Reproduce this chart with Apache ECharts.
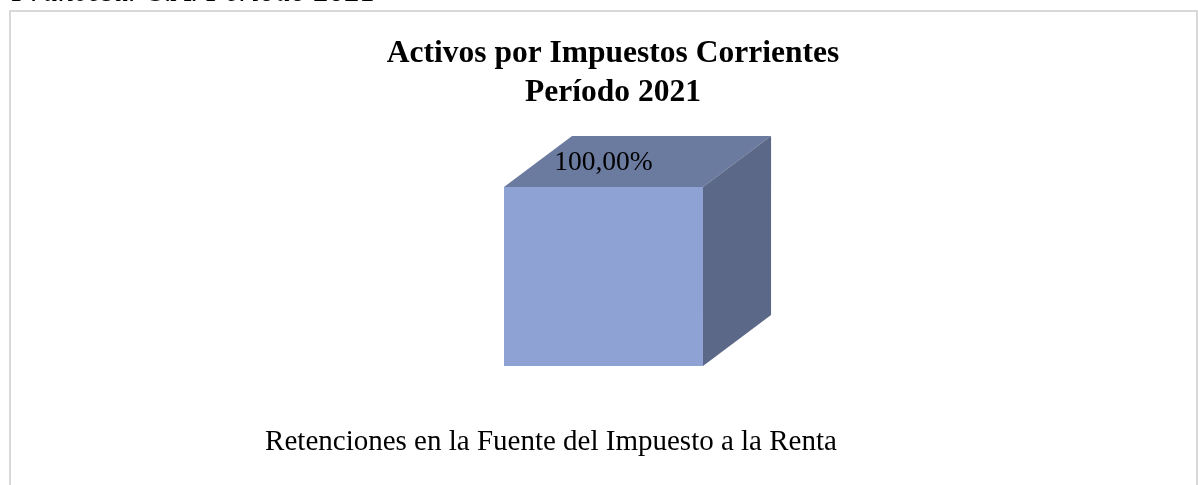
<!DOCTYPE html>
<html>
<head>
<meta charset="utf-8">
<script src="https://cdn.jsdelivr.net/npm/echarts@6/dist/echarts.min.js"></script>
<style>
html,body{margin:0;padding:0;background:#fff;}
#chart{width:1198px;height:485px;}
</style>
</head>
<body>
<div id="chart"></div>
<script>
const categories = ['Retenciones en la Fuente del Impuesto a la Renta'];
const values = [100];
const titleLines = ['Activos por Impuestos Corrientes', 'Período 2021'];
const headerText = 'Francesur S.A. Período 2021';

const SERIF = '"Liberation Serif", "Times New Roman", serif';

function fmtPct(v) {
  return v.toFixed(2).replace('.', ',') + '%';
}

const chart = echarts.init(document.getElementById('chart'), null, { renderer: 'canvas' });

chart.setOption({
  backgroundColor: '#ffffff',
  animation: false,
  title: {
    text: titleLines.join('\n'),
    left: 608,
    top: 29,
    textAlign: 'center',
    textStyle: {
      fontFamily: SERIF,
      fontSize: 31.5,
      fontWeight: 'bold',
      color: '#000000',
      lineHeight: 39
    }
  },
  graphic: [
    {
      type: 'rect',
      shape: { x: 10, y: 11, width: 1187, height: 520 },
      style: { fill: 'none', stroke: '#d9d9d9', lineWidth: 2 },
      silent: true,
      z: -1
    },
    {
      type: 'text',
      x: 12,
      y: 8,
      style: {
        text: headerText,
        font: 'italic 31px ' + SERIF,
        fill: '#000000',
        align: 'left',
        verticalAlign: 'bottom'
      },
      silent: true,
      z: 10
    }
  ],
  grid: { left: 263, right: 254, top: 187, bottom: 119 },
  xAxis: {
    type: 'category',
    data: categories,
    axisLine: { show: false },
    axisTick: { show: false },
    splitLine: { show: false },
    axisLabel: {
      fontFamily: SERIF,
      fontSize: 29,
      color: '#000000',
      margin: 62,
      padding: [0, 105, 0, 0],
      interval: 0
    }
  },
  yAxis: {
    type: 'value',
    min: 0,
    max: 100,
    show: false
  },
  series: [
    {
      type: 'custom',
      data: values.map((v, i) => [i, v]),
      encode: { x: 0, y: 1 },
      renderItem: function (params, api) {
        const base = api.coord([api.value(0), 0]);
        const top = api.coord([api.value(0), api.value(1)]);
        const bw = api.size([1, 0])[0] * 0.2922;
        const x0 = base[0] - bw / 2;
        const x1 = base[0] + bw / 2;
        const yT = top[1];
        const yB = base[1];
        const dx = bw * 0.342;
        const dy = bw * 0.256;
        return {
          type: 'group',
          children: [
            {
              type: 'polygon',
              shape: { points: [[x0, yT], [x1, yT], [x1, yB], [x0, yB]] },
              style: { fill: '#8FA2D4' }
            },
            {
              type: 'polygon',
              shape: { points: [[x0, yT], [x0 + dx, yT - dy], [x1 + dx, yT - dy], [x1, yT]] },
              style: { fill: '#6B7BA0' }
            },
            {
              type: 'polygon',
              shape: { points: [[x1, yT], [x1 + dx, yT - dy], [x1 + dx, yB - dy], [x1, yB]] },
              style: { fill: '#5B6887' }
            },
            {
              type: 'text',
              style: {
                text: fmtPct(api.value(1)),
                x: base[0],
                y: yT - 24,
                align: 'center',
                verticalAlign: 'middle',
                font: '27.5px ' + SERIF,
                fill: '#000000'
              }
            }
          ]
        };
      }
    }
  ]
});
</script>
</body>
</html>
